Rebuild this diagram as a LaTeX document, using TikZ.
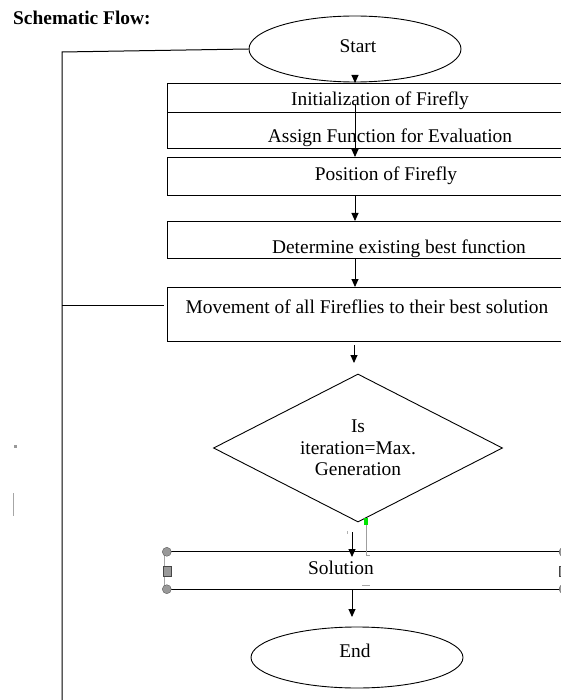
\documentclass[tikz,border=0pt]{standalone}
\usepackage{fontspec}
\setmainfont{Liberation Serif}
\usetikzlibrary{arrows.meta,shapes.geometric}
\begin{document}
\begin{tikzpicture}[x=1pt,y=-1pt,
  every node/.style={font=\fontsize{19.4}{21.5}\selectfont, inner sep=0pt},
  boxs/.style={draw, line width=1pt, rectangle, anchor=north west, minimum width=404pt},
  term/.style={draw, line width=0.9pt, ellipse, minimum width=212pt},
  lbl/.style={anchor=base},
  arr/.style={line width=0.9pt, -{Triangle[width=7pt,length=8pt]}},
  ln/.style={line width=1pt},
  handle/.style={fill=gray!80, draw=gray!55!black, line width=0.3pt},
  stray/.style={draw=gray!75, line width=0.8pt}
]
\useasboundingbox (0,0) rectangle (561,700);
\clip (0,0) rectangle (561,700);
\fill[white] (0,0) rectangle (561,700);

\node[font=\fontsize{19.4}{21.5}\selectfont\bfseries, anchor=base west] (title) at (13,25) {Schematic Flow:};

% terminals
\node[term, minimum height=66pt] (start) at (355,49) {};
\node[lbl] (startlbl) at (358,53) {Start};

% boxes
\node[boxs, minimum height=29pt] (box1) at (167,83) {};
\node[boxs, minimum height=36pt] (box2) at (167,112) {};
\node[boxs, minimum height=38pt] (box3) at (167,157) {};
\node[boxs, minimum height=37pt] (box4) at (167,221) {};
\node[boxs, minimum height=54pt] (box5) at (167,287) {};

\node[lbl] (t1) at (380,106) {Initialization of Firefly};
\node[lbl] (t2) at (390,142.5) {Assign Function for Evaluation};
\node[lbl] (t3) at (386,181) {Position of Firefly};
\node[lbl] (t4) at (399,254) {Determine existing best function};
\node[lbl] (t5) at (367,313) {Movement of all Fireflies to their best solution};

% decision
\node[draw, line width=0.9pt, diamond, aspect=2, minimum width=289pt, minimum height=148pt, align=center] (dec) at (358,448) {Is\\iteration=Max.\\Generation};

% solution band
\node[minimum width=404pt, minimum height=37pt] (sol) at (369,570.5) {};
\draw[ln] (sol.north west) -- (sol.north east);
\draw[ln] (sol.south west) -- (sol.south east);
\draw[gray!70, line width=0.6pt] ([xshift=-3pt]sol.north west) -- ([xshift=-3pt]sol.south west);
\node[lbl] (solt) at (341,574) {Solution};
\fill[handle] (sol.north west) circle (4.5pt);
\fill[handle] (sol.south west) circle (4.5pt);
\filldraw[handle] (163,566) rectangle (171,576);
\filldraw[handle] (563.5,552) circle (4.5pt);
\filldraw[handle] (563.5,589) circle (4.5pt);
\filldraw[handle] (559,566) rectangle (567,576);

\node[term, minimum height=61pt] (end) at (357,657.5) {};
\node[lbl] (endt) at (355,657) {End};

% connectors
\coordinate (c13) at (355,105);
\coordinate (a5s) at (354,345);
\coordinate (a5e) at (354,363);
\coordinate (ads) at (352,532);
\coordinate (ade) at (352,557);
\coordinate (aes) at (352,589);
\coordinate (aee) at (352,617);
\draw[arr] (start.south) -- (box1.north -| start.south);
\draw[arr] (c13) -- (box3.north -| c13);
\draw[arr] (box3.south -| c13) -- (box4.north -| c13);
\draw[arr] (box4.south -| c13) -- (box5.north -| c13);
\draw[arr] (a5s) -- (a5e);
\draw[arr] (ads) -- (ade);
\draw[arr] (aes) -- (aee);

% feedback line
\coordinate (fbtop) at (62,52);
\coordinate (fbbot) at (62,705);
\coordinate (fbmid) at (62,305);
\coordinate (b5in) at (164,305);
\draw[ln] (start.west) -- (fbtop) -- (fbbot);
\draw[ln] (fbmid) -- (b5in);

% stray marks
\fill[gray!80] (14,445) rectangle (17,447.5);
\draw[gray!70, line width=1.3pt] (13.5,493) -- (13.5,516);
\draw[stray] (366,523) -- (366,555) -- (370,555);
\fill[green!90!black] (364,518) rectangle (368,525);
\draw[gray!60, line width=0.6pt] (347,531) -- (347,534);
\draw[gray!70, line width=0.8pt] (362,585) -- (370,585);
\end{tikzpicture}
\end{document}
